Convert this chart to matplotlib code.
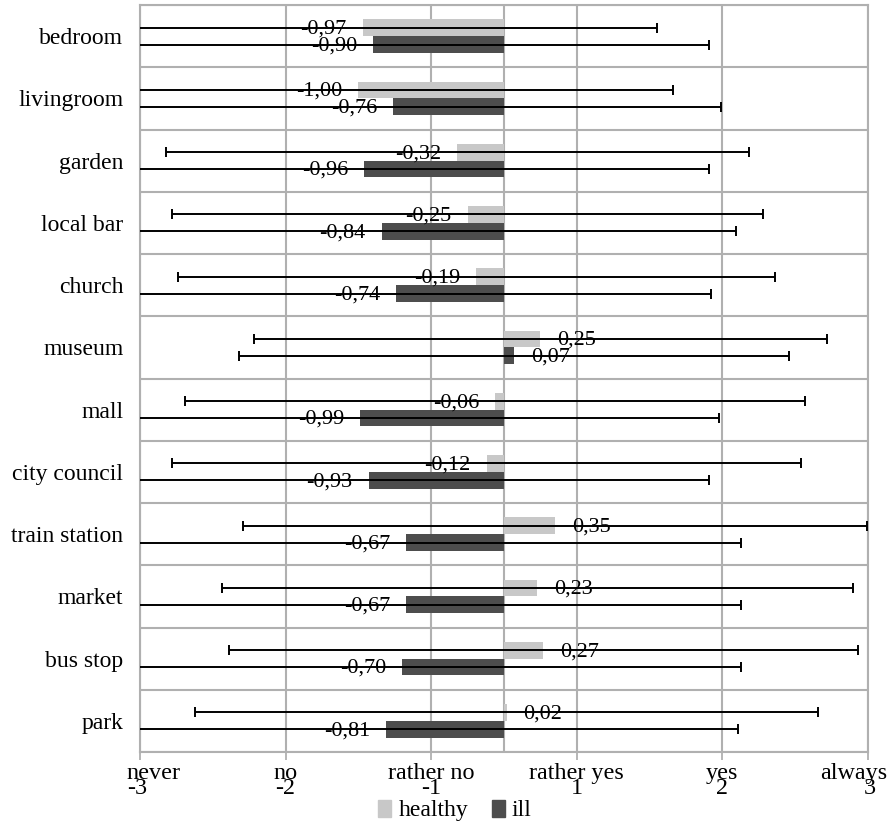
import numpy as np
import matplotlib
matplotlib.use("Agg")
import matplotlib.pyplot as plt
from matplotlib.patches import Patch

plt.rcParams['font.family'] = ['Liberation Serif', 'DejaVu Serif']

categories = ["bedroom", "livingroom", "garden", "local bar", "church", "museum",
              "mall", "city council", "train station", "market", "bus stop", "park"]
healthy = [-0.97, -1.00, -0.32, -0.25, -0.19, 0.25, -0.06, -0.12, 0.35, 0.23, 0.27, 0.02]
ill = [-0.90, -0.76, -0.96, -0.84, -0.74, 0.07, -0.99, -0.93, -0.67, -0.67, -0.70, -0.81]
healthy_sd = [2.02, 2.16, 2.00, 2.03, 2.05, 1.97, 2.13, 2.16, 2.14, 2.17, 2.16, 2.14]
ill_sd = [2.31, 2.25, 2.37, 2.43, 2.16, 1.89, 2.47, 2.34, 2.30, 2.30, 2.33, 2.42]
tick_values = [-2.5, -1.5, -0.5, 0.5, 1.5, 2.5]
tick_words = ["never", "no", "rather no", "rather yes", "yes", "always"]
tick_numbers = ["-3", "-2", "-1", "1", "2", "3"]

c_healthy = "#c8c8c8"
c_ill = "#4d4d4d"
grid_c = "#b0b0b0"

fig = plt.figure(figsize=(8.95, 8.25), dpi=100)
ax = fig.add_axes([140/895, 1 - 752/825, (868-140)/895, (752-5)/825])

n = len(categories)
y = np.arange(n)
h = 0.27
off = 0.135

ax.barh(y - off, healthy, height=h, color=c_healthy, zorder=2)
ax.barh(y + off, ill, height=h, color=c_ill, zorder=2)
ax.errorbar(healthy, y - off, xerr=healthy_sd, fmt='none', ecolor='black',
            elinewidth=1.4, capsize=3.3, capthick=1.4, zorder=3)
ax.errorbar(ill, y + off, xerr=ill_sd, fmt='none', ecolor='black',
            elinewidth=1.4, capsize=3.3, capthick=1.4, zorder=3)

def fmt(v):
    return f"{v:.2f}".replace('.', ',')

for vals, yy in ((healthy, y - off), (ill, y + off)):
    for v, yv in zip(vals, yy):
        if v < 0:
            ax.annotate(fmt(v), (v, yv), xytext=(-11.5, -1), textcoords='offset points',
                        ha='right', va='center', fontsize=16, zorder=4)
        else:
            ax.annotate(fmt(v), (v, yv), xytext=(12, -1), textcoords='offset points',
                        ha='left', va='center', fontsize=16, zorder=4)

ax.set_xlim(-2.5, 2.5)
ax.set_ylim(n - 0.5, -0.5)
ax.set_xticks(tick_values)
ax.set_xticklabels([""] * len(tick_values))
# two-line tick labels (word above number); edge labels pulled inward as in the original
last = len(tick_values) - 1
for i, (tv, w, num) in enumerate(zip(tick_values, tick_words, tick_numbers)):
    if i == 0:
        label, ma, dx = f"{w}\n{num}", 'left', 10
    elif i == last:
        label, ma, dx = f"{w}\n{num}  ", 'right', -10
    else:
        label, ma, dx = f"{w}\n{num}", 'center', 0
    ax.annotate(label, (tv, 0), xycoords=('data', 'axes fraction'), xytext=(dx, -30.5),
                textcoords='offset points', ha='center', va='baseline', fontsize=17.4,
                multialignment=ma, linespacing=0.65, annotation_clip=False)

ax.set_yticks(y)
ax.set_yticklabels(categories, fontsize=17)
ax.set_yticks(np.arange(n + 1) - 0.5, minor=True)
ax.tick_params(axis='y', which='both', length=0, pad=12)
ax.tick_params(axis='x', length=6, width=1.3, color=grid_c, pad=2)
ax.grid(axis='x', color=grid_c, lw=1.5, zorder=0)
ax.grid(axis='y', which='minor', color=grid_c, lw=1.5, zorder=0)
ax.axvline(0, color=grid_c, lw=1.5, zorder=1)
for s in ax.spines.values():
    s.set_color(grid_c)
    s.set_linewidth(1.5)

handles = [Patch(color=c_healthy, label="healthy"), Patch(color=c_ill, label="ill")]
fig.legend(handles=handles, loc='center', bbox_to_anchor=(455/895, 1 - 810.5/825), ncol=2,
           frameon=False, fontsize=17, handlelength=0.55, handleheight=0.75,
           handletextpad=0.3, columnspacing=1.0, borderpad=0)

fig.savefig("out.png", dpi=100)
